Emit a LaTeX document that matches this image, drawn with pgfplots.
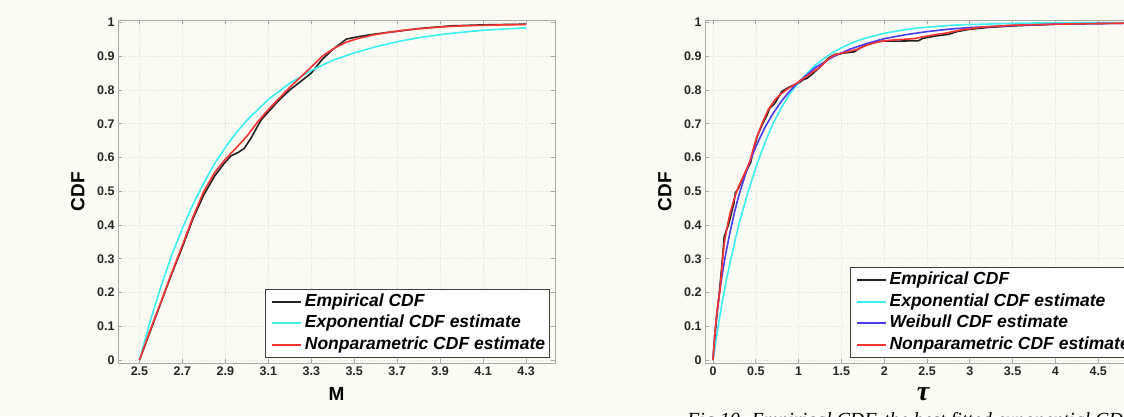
\documentclass[border=0pt]{standalone}
\usepackage{fontspec}
\setmainfont{Liberation Sans}
\newfontfamily\serifcap{Liberation Serif}
\usepackage{pgfplots}
\pgfplotsset{compat=1.18}
\definecolor{bgcream}{HTML}{FBFAF3}
\definecolor{ecdf}{HTML}{222222}
\definecolor{expc}{HTML}{3CF0F0}
\definecolor{weib}{HTML}{4B3CF0}
\definecolor{npar}{HTML}{F53333}
\definecolor{framegray}{HTML}{A8A8A8}

\pgfplotsset{
  cdfpanel/.style={
    scale only axis, height=343pt, ymin=-0.009, ymax=1.0074,
    axis line style={framegray, line width=1pt},
    tick style={framegray, line width=0.8pt},
    major tick length=4pt,
    tick align=inside, xtick pos=both, ytick pos=both,
    xticklabel pos=lower, yticklabel pos=left,
    ytick={0,0.1,0.2,0.3,0.4,0.5,0.6,0.7,0.8,0.9,1},
    grid=major, grid style={dotted, black!12, line width=0.6pt},
    ticklabel style={font=\fontsize{12.5}{14}\selectfont\bfseries, text=black!85},
    /pgf/number format/assume math mode=true,
    ylabel={CDF},
    every axis y label/.style={at={([xshift=-30pt]axis description cs:0,0.5)},
      rotate=90, anchor=south, font=\fontsize{19}{22}\selectfont\bfseries},
    legend cell align=left,
    legend image code/.code={\path (0pt,0pt); \draw[##1, line width=1.8pt] (4pt,0pt) -- (33pt,0pt);},
    legend style={draw=black!75, fill=white, line width=0.8pt, inner sep=2pt, row sep=0pt,
      font=\fontsize{17.5}{20}\selectfont\bfseries\itshape,
      nodes={text height=12.5pt, text depth=4pt, inner sep=2.5pt}},
    every axis plot/.append style={line width=1.6pt, no markers},
  }
}

\begin{document}
\begin{tikzpicture}
\fill[bgcream] (0,0) rectangle (1124pt,416pt);
\useasboundingbox (0,0) rectangle (1124pt,416pt);

% left panel: magnitude M
\begin{axis}[cdfpanel,
    at={(118pt,53pt)}, anchor=south west, width=437pt,
    xmin=2.4, xmax=4.435,
    xtick={2.5,2.7,2.9,3.1,3.3,3.5,3.7,3.9,4.1,4.3},
    xticklabel style={/pgf/number format/.cd, fixed, fixed zerofill, precision=1},
    xlabel={M},
    every axis x label/.style={at={(axis description cs:0.5,0)}, anchor=base, yshift=-37pt,
      font=\fontsize{19}{22}\selectfont\bfseries},
    legend style={at={(1,0)}, anchor=south east, xshift=-5pt, yshift=5pt},
  ]
  \addplot[ecdf] coordinates {
    (2.5,0) (2.55,0.085) (2.6,0.17) (2.65,0.255) (2.7,0.335) (2.75,0.42) (2.8,0.49)
    (2.85,0.545) (2.895,0.583) (2.926,0.605) (2.96,0.615) (2.988,0.627) (3.019,0.657)
    (3.066,0.711) (3.1,0.735) (3.15,0.77) (3.2,0.80) (3.25,0.825) (3.3,0.85) (3.35,0.89)
    (3.4,0.92) (3.464,0.951) (3.52,0.958) (3.588,0.965) (3.7,0.974) (3.8,0.982)
    (3.95,0.99) (4.1,0.993) (4.3,0.995)
  };
  \addplot[expc] coordinates {
    (2.5,0) (2.55,0.115) (2.6,0.218) (2.65,0.31) (2.7,0.39) (2.75,0.462) (2.8,0.525)
    (2.85,0.582) (2.9,0.63) (2.95,0.673) (3.0,0.71) (3.1,0.772) (3.2,0.82) (3.3,0.858)
    (3.4,0.888) (3.5,0.91) (3.6,0.928) (3.7,0.943) (3.8,0.955) (3.9,0.964) (4.0,0.971)
    (4.1,0.977) (4.2,0.981) (4.3,0.984)
  };
  \addplot[npar] coordinates {
    (2.5,0) (2.55,0.088) (2.6,0.172) (2.65,0.258) (2.7,0.34) (2.75,0.425) (2.8,0.50)
    (2.85,0.555) (2.9,0.595) (2.95,0.628) (3.0,0.663) (3.05,0.705) (3.1,0.742) (3.15,0.775)
    (3.2,0.808) (3.26,0.844) (3.3,0.868) (3.355,0.902) (3.41,0.925) (3.464,0.942)
    (3.52,0.953) (3.588,0.963) (3.66,0.971) (3.744,0.978) (3.85,0.984) (3.93,0.988)
    (4.05,0.991) (4.2,0.993) (4.3,0.994)
  };
  \legend{Empirical CDF, Exponential CDF estimate, Nonparametric CDF estimate}
\end{axis}

% right panel: tau
\begin{axis}[cdfpanel,
    at={(705pt,53pt)}, anchor=south west, width=444.6pt,
    xmin=-0.0935, xmax=5.1,
    xtick={0,0.5,1,1.5,2,2.5,3,3.5,4,4.5},
    xlabel={τ},
    every axis x label/.style={at={(axis description cs:0,0)}, anchor=base, xshift=218pt, yshift=-37pt,
      font=\serifcap\fontsize{28}{30}\selectfont\bfseries\itshape},
    legend style={at={(0,0)}, anchor=south west, xshift=145pt, yshift=5pt},
  ]
  \addplot[ecdf] coordinates {
    (0,0) (0.02,0.06) (0.04,0.12) (0.07,0.19) (0.1,0.27) (0.12,0.33) (0.13,0.365)
    (0.18,0.40) (0.22,0.44) (0.245,0.465) (0.26,0.495) (0.3,0.51) (0.35,0.54) (0.4,0.565)
    (0.44,0.585) (0.47,0.62) (0.52,0.665) (0.58,0.70) (0.63,0.725) (0.66,0.745) (0.72,0.76)
    (0.78,0.785) (0.8,0.795) (0.9,0.81) (1.0,0.82) (1.05,0.83) (1.1,0.835) (1.15,0.845)
    (1.25,0.868) (1.35,0.895) (1.42,0.905) (1.55,0.91) (1.65,0.913) (1.72,0.925) (1.8,0.935)
    (1.9,0.942) (2.0,0.945) (2.2,0.945) (2.4,0.946) (2.45,0.953) (2.6,0.96) (2.75,0.965)
    (2.85,0.973) (3.0,0.98) (3.2,0.985) (3.5,0.99) (4.0,0.995) (4.5,0.997) (5.1,0.999)
  };
  \addplot[expc] coordinates {
    (0,0) (0.03,0.05) (0.06,0.1) (0.1,0.16) (0.15,0.23) (0.2,0.29) (0.25,0.345) (0.3,0.40)
    (0.35,0.445) (0.4,0.49) (0.45,0.53) (0.5,0.57) (0.6,0.64) (0.7,0.70) (0.8,0.748)
    (0.9,0.79) (1.0,0.822) (1.1,0.85) (1.2,0.874) (1.3,0.894) (1.4,0.911) (1.5,0.925)
    (1.6,0.937) (1.7,0.947) (1.8,0.955) (2.0,0.968) (2.2,0.977) (2.4,0.984) (2.6,0.988)
    (2.8,0.992) (3.0,0.994) (3.3,0.996) (3.6,0.998) (4.0,0.999) (4.5,0.9995) (5.1,1.0)
  };
  \addplot[weib] coordinates {
    (0,0) (0.01,0.043) (0.025,0.087) (0.05,0.146) (0.075,0.197) (0.1,0.241) (0.15,0.317)
    (0.2,0.38) (0.25,0.437) (0.3,0.486) (0.4,0.567) (0.5,0.632) (0.6,0.686) (0.7,0.73)
    (0.8,0.767) (0.9,0.798) (1.0,0.824) (1.2,0.867) (1.4,0.898) (1.6,0.921) (1.8,0.938)
    (2.0,0.952) (2.25,0.964) (2.5,0.973) (2.75,0.98) (3.0,0.985) (3.5,0.991) (4.0,0.995)
    (4.5,0.997) (5.1,0.998)
  };
  \addplot[npar] coordinates {
    (0,0) (0.02,0.07) (0.04,0.13) (0.06,0.17) (0.082,0.208) (0.1,0.26) (0.12,0.32)
    (0.14,0.36) (0.17,0.40) (0.2,0.435) (0.25,0.48) (0.3,0.515) (0.354,0.544) (0.4,0.57)
    (0.432,0.59) (0.47,0.625) (0.51,0.66) (0.58,0.705) (0.646,0.742) (0.72,0.77) (0.8,0.79)
    (0.9,0.808) (1.0,0.824) (1.1,0.842) (1.25,0.868) (1.35,0.893) (1.42,0.904) (1.55,0.912)
    (1.68,0.92) (1.8,0.933) (1.95,0.944) (2.1,0.948) (2.34,0.952) (2.55,0.962) (2.73,0.969)
    (2.9,0.978) (3.12,0.986) (3.5,0.992) (4.0,0.995) (4.5,0.997) (5.1,0.999)
  };
  \legend{Empirical CDF, Exponential CDF estimate, Weibull CDF estimate, Nonparametric CDF estimate}
\end{axis}

\node[anchor=base west, inner sep=0pt, font=\serifcap\itshape\fontsize{20}{24}\selectfont]
  at (687pt,-10pt) {Fig.10. Empirical CDF, the best fitted exponential CDF};
\end{tikzpicture}
\end{document}
